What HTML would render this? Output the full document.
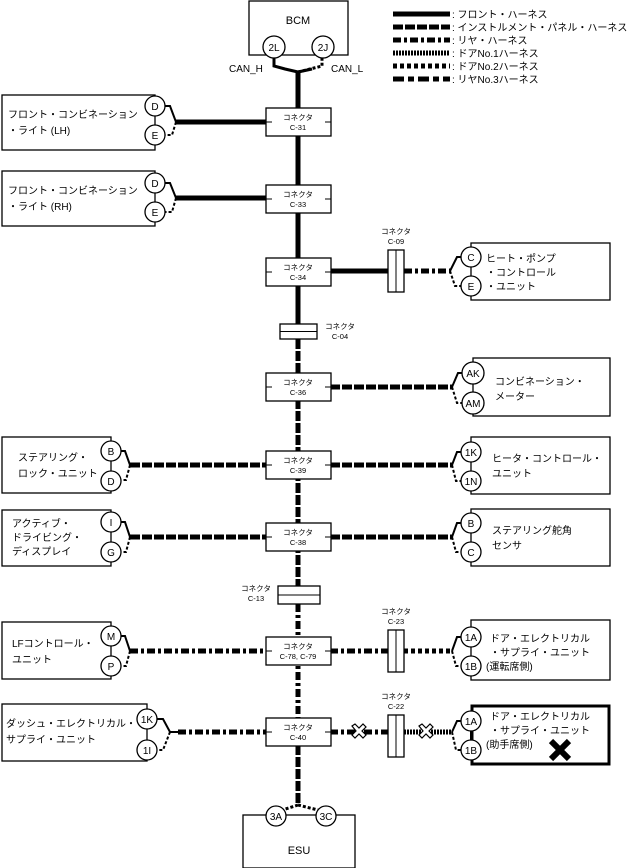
<!DOCTYPE html>
<html><head><meta charset="utf-8"><style>
body{margin:0;background:#fff}
svg{display:block}
text{font-family:"Liberation Sans","Noto Sans CJK JP",sans-serif;fill:#000}
</style></head><body>
<svg width="628" height="868" viewBox="0 0 628 868" xmlns="http://www.w3.org/2000/svg">
<defs>
<style>
.b{fill:#fff;stroke:#000;stroke-width:1.3}
.s{stroke:#000;stroke-width:5;fill:none}
.ip{stroke:#000;stroke-width:5;fill:none;stroke-dasharray:10 2}
.rr{stroke:#000;stroke-width:5;fill:none;stroke-dasharray:8 3 3 3}
.d1{stroke:#000;stroke-width:5;fill:none;stroke-dasharray:2 1}
.d2{stroke:#000;stroke-width:5;fill:none;stroke-dasharray:4 3}
.r3{stroke:#000;stroke-width:5;fill:none;stroke-dasharray:11 4 6 4}
.t{stroke:#000;stroke-width:1.5;fill:none}
.td{stroke:#000;stroke-width:1.5;fill:none;stroke-dasharray:3 2}
.c{fill:#fff;stroke:#000;stroke-width:1.3}
.k{stroke:#000;stroke-width:1}
</style>
</defs>

<!-- Legend -->
<line x1="393" y1="14" x2="450" y2="14" class="s"/>
<line x1="393" y1="27" x2="450" y2="27" class="ip"/>
<line x1="393" y1="40" x2="450" y2="40" class="rr"/>
<line x1="393" y1="53" x2="450" y2="53" class="d1"/>
<line x1="393" y1="66" x2="450" y2="66" class="d2"/>
<line x1="393" y1="79" x2="450" y2="79" class="r3"/>
<g font-size="10">
<text x="452" y="18">: フロント・ハーネス</text>
<text x="452" y="31">: インストルメント・パネル・ハーネス</text>
<text x="452" y="44">: リヤ・ハーネス</text>
<text x="452" y="57">: ドアNo.1ハーネス</text>
<text x="452" y="70">: ドアNo.2ハーネス</text>
<text x="452" y="83">: リヤNo.3ハーネス</text>
</g>

<!-- main vertical -->
<line x1="298" y1="72" x2="298" y2="330" class="s"/>
<line x1="298" y1="339" x2="298" y2="595" class="ip"/>
<line x1="298" y1="604" x2="298" y2="720" class="rr"/>
<line x1="298" y1="745" x2="298" y2="805" class="ip"/>

<!-- BCM -->
<rect x="249" y="1" width="99" height="54" class="b"/>
<text x="298" y="24" font-size="11" text-anchor="middle">BCM</text>
<path d="M274 58 V66 L285 69 L298 72 M298 72 L312 69" class="t" style="stroke-width:3"/>
<path d="M298 72 L322 66 V58" class="td" style="stroke-width:3"/>
<circle cx="274" cy="47" r="11" class="c"/><text x="274" y="51" font-size="10" text-anchor="middle">2L</text>
<circle cx="323" cy="47" r="11" class="c"/><text x="323" y="51" font-size="10" text-anchor="middle">2J</text>
<text x="229" y="72" font-size="10">CAN_H</text>
<text x="331" y="72" font-size="10">CAN_L</text>

<!-- horizontals -->
<line x1="176" y1="122" x2="268" y2="122" class="s"/>
<line x1="176" y1="198" x2="268" y2="198" class="s"/>
<line x1="330" y1="271" x2="390" y2="271" class="s"/>
<line x1="404" y1="271" x2="450" y2="271" class="rr"/>
<line x1="330" y1="387" x2="452" y2="387" class="ip"/>
<line x1="130" y1="465" x2="268" y2="465" class="ip"/>
<line x1="330" y1="465" x2="452" y2="465" class="ip"/>
<line x1="130" y1="537" x2="268" y2="537" class="ip"/>
<line x1="330" y1="537" x2="452" y2="537" class="ip"/>
<line x1="130" y1="651" x2="268" y2="651" class="rr"/>
<line x1="330" y1="651" x2="390" y2="651" class="rr"/>
<line x1="404" y1="651" x2="452" y2="651" class="d2"/>
<line x1="178" y1="732" x2="268" y2="732" class="rr"/>
<line x1="330" y1="732" x2="390" y2="732" class="rr"/>
<line x1="404" y1="732" x2="452" y2="732" class="d1"/>

<!-- connector boxes -->
<g font-size="7.5" text-anchor="middle">
<rect x="266" y="108" width="65" height="28" class="b"/><text x="298" y="120">コネクタ</text><text x="298" y="130">C-31</text>
<rect x="266" y="185" width="65" height="28" class="b"/><text x="298" y="197">コネクタ</text><text x="298" y="207">C-33</text>
<rect x="266" y="258" width="65" height="28" class="b"/><text x="298" y="270">コネクタ</text><text x="298" y="280">C-34</text>
<rect x="266" y="373" width="65" height="28" class="b"/><text x="298" y="385">コネクタ</text><text x="298" y="395">C-36</text>
<rect x="266" y="451" width="65" height="28" class="b"/><text x="298" y="463">コネクタ</text><text x="298" y="473">C-39</text>
<rect x="266" y="523" width="65" height="28" class="b"/><text x="298" y="535">コネクタ</text><text x="298" y="545">C-38</text>
<rect x="266" y="637" width="65" height="28" class="b"/><text x="298" y="649">コネクタ</text><text x="298" y="659">C-78, C-79</text>
<rect x="266" y="718" width="65" height="28" class="b"/><text x="298" y="730">コネクタ</text><text x="298" y="740">C-40</text>
<rect x="280" y="324" width="37" height="15" class="b"/><line x1="280" y1="331.5" x2="317" y2="331.5" class="k"/>
<text x="340" y="329">コネクタ</text><text x="340" y="339">C-04</text>
<rect x="278" y="586" width="42" height="18" class="b"/><line x1="278" y1="595" x2="320" y2="595" class="k"/>
<text x="256" y="591">コネクタ</text><text x="256" y="601">C-13</text>
<rect x="388" y="250" width="16" height="42" class="b"/><line x1="396" y1="250" x2="396" y2="292" class="k"/>
<text x="396" y="234">コネクタ</text><text x="396" y="244">C-09</text>
<rect x="388" y="630" width="16" height="42" class="b"/><line x1="396" y1="630" x2="396" y2="672" class="k"/>
<text x="396" y="614">コネクタ</text><text x="396" y="624">C-23</text>
<rect x="388" y="715" width="16" height="42" class="b"/><line x1="396" y1="715" x2="396" y2="757" class="k"/>
<text x="396" y="699">コネクタ</text><text x="396" y="709">C-22</text>
</g>
<!-- ticks -->
<g class="k">
<line x1="266" y1="122" x2="272" y2="122"/><line x1="325" y1="122" x2="331" y2="122"/>
<line x1="266" y1="199" x2="272" y2="199"/><line x1="325" y1="199" x2="331" y2="199"/>
<line x1="266" y1="272" x2="272" y2="272"/><line x1="325" y1="272" x2="331" y2="272"/>
<line x1="266" y1="387" x2="272" y2="387"/><line x1="325" y1="387" x2="331" y2="387"/>
<line x1="266" y1="465" x2="272" y2="465"/><line x1="325" y1="465" x2="331" y2="465"/>
<line x1="266" y1="537" x2="272" y2="537"/><line x1="325" y1="537" x2="331" y2="537"/>
<line x1="266" y1="651" x2="272" y2="651"/><line x1="325" y1="651" x2="331" y2="651"/>
<line x1="266" y1="732" x2="272" y2="732"/><line x1="325" y1="732" x2="331" y2="732"/>
</g>

<!-- X marks -->
<g stroke="#000" stroke-width="1.2" fill="#fff">
<path d="M352 726 L355 724 L359 728 L363 724 L366 727 L362 731 L366 735 L363 738 L359 734 L355 738 L352 735 L356 731 Z"/>
<path d="M419 726 L422 724 L426 728 L430 724 L433 727 L429 731 L433 735 L430 738 L426 734 L422 738 L419 735 L423 731 Z"/>
</g>

<!-- left devices -->
<g font-size="10">
<rect x="2" y="95" width="153" height="55" class="b"/>
<text x="8" y="118">フロント・コンビネーション</text><text x="8" y="134">・ライト (LH)</text>
<line x1="155" y1="106" x2="155" y2="135" class="k"/>
<path d="M165 106 H170 L176 122" class="t" style="stroke-width:2"/><path d="M176 122 L172 135 H165" class="td" style="stroke-width:2"/>
<circle cx="155" cy="106" r="10" class="c"/><text x="155" y="110" text-anchor="middle">D</text>
<circle cx="155" cy="135" r="10" class="c"/><text x="155" y="139" text-anchor="middle">E</text>

<rect x="2" y="171" width="153" height="55" class="b"/>
<text x="8" y="194">フロント・コンビネーション</text><text x="8" y="210">・ライト (RH)</text>
<line x1="155" y1="183" x2="155" y2="212" class="k"/>
<path d="M165 183 H170 L176 198" class="t" style="stroke-width:2"/><path d="M176 198 L172 212 H165" class="td" style="stroke-width:2"/>
<circle cx="155" cy="183" r="10" class="c"/><text x="155" y="187" text-anchor="middle">D</text>
<circle cx="155" cy="212" r="10" class="c"/><text x="155" y="216" text-anchor="middle">E</text>

<rect x="2" y="437" width="109" height="56" class="b"/>
<text x="18" y="461">ステアリング・</text><text x="18" y="477">ロック・ユニット</text>
<line x1="111" y1="451" x2="111" y2="481" class="k"/>
<path d="M121 451 H125 L130 465" class="t" style="stroke-width:2"/><path d="M130 465 L126 480 H121" class="td" style="stroke-width:2"/>
<circle cx="111" cy="451" r="10" class="c"/><text x="111" y="455" text-anchor="middle">B</text>
<circle cx="111" cy="481" r="10" class="c"/><text x="111" y="485" text-anchor="middle">D</text>

<rect x="2" y="510" width="109" height="56" class="b"/>
<text x="12" y="527">アクティブ・</text><text x="12" y="541">ドライビング・</text><text x="12" y="555">ディスプレイ</text>
<line x1="111" y1="522" x2="111" y2="552" class="k"/>
<path d="M121 522 H125 L130 537" class="t" style="stroke-width:2"/><path d="M130 537 L126 552 H121" class="td" style="stroke-width:2"/>
<circle cx="111" cy="522" r="10" class="c"/><text x="111" y="526" text-anchor="middle">I</text>
<circle cx="111" cy="552" r="10" class="c"/><text x="111" y="556" text-anchor="middle">G</text>

<rect x="2" y="622" width="109" height="57" class="b"/>
<text x="12" y="647">LFコントロール・</text><text x="12" y="663">ユニット</text>
<line x1="111" y1="636" x2="111" y2="666" class="k"/>
<path d="M121 636 H125 L130 651" class="t" style="stroke-width:2"/><path d="M130 651 L126 666 H121" class="td" style="stroke-width:2"/>
<circle cx="111" cy="636" r="10" class="c"/><text x="111" y="640" text-anchor="middle">M</text>
<circle cx="111" cy="666" r="10" class="c"/><text x="111" y="670" text-anchor="middle">P</text>

<rect x="2" y="704" width="145" height="57" class="b"/>
<text x="6" y="727">ダッシュ・エレクトリカル・</text><text x="6" y="743">サプライ・ユニット</text>
<line x1="147" y1="719" x2="147" y2="750" class="k"/>
<path d="M157 719 H163 L170 732 H178" class="t" style="stroke-width:2"/><path d="M170 732 L163 750 H157" class="td" style="stroke-width:2"/>
<circle cx="147" cy="719" r="10" class="c"/><text x="147" y="723" text-anchor="middle">1K</text>
<circle cx="147" cy="750" r="10" class="c"/><text x="147" y="754" text-anchor="middle">1I</text>
</g>

<!-- right devices -->
<g font-size="10">
<rect x="471" y="243" width="139" height="57" class="b"/>
<text x="486" y="262">ヒート・ポンプ</text><text x="486" y="276">・コントロール</text><text x="486" y="290">・ユニット</text>
<line x1="471" y1="257" x2="471" y2="286" class="k"/>
<path d="M461 257 H457 L450 271" class="t" style="stroke-width:2"/><path d="M450 271 L455 286 H461" class="td" style="stroke-width:2"/>
<circle cx="471" cy="257" r="10" class="c"/><text x="471" y="261" text-anchor="middle">C</text>
<circle cx="471" cy="286" r="10" class="c"/><text x="471" y="290" text-anchor="middle">E</text>

<rect x="473" y="358" width="137" height="58" class="b"/>
<text x="495" y="385">コンビネーション・</text><text x="495" y="400">メーター</text>
<line x1="473" y1="373" x2="473" y2="403" class="k"/>
<path d="M462 373 H458 L452 387" class="t" style="stroke-width:2"/><path d="M452 387 L457 403 H462" class="td" style="stroke-width:2"/>
<circle cx="473" cy="373" r="11" class="c"/><text x="473" y="377" text-anchor="middle">AK</text>
<circle cx="473" cy="403" r="11" class="c"/><text x="473" y="407" text-anchor="middle">AM</text>

<rect x="471" y="437" width="139" height="57" class="b"/>
<text x="492" y="462">ヒータ・コントロール・</text><text x="492" y="477">ユニット</text>
<line x1="471" y1="452" x2="471" y2="481" class="k"/>
<path d="M461 452 H457 L452 465" class="t" style="stroke-width:2"/><path d="M452 465 L456 481 H461" class="td" style="stroke-width:2"/>
<circle cx="471" cy="452" r="10" class="c"/><text x="471" y="456" text-anchor="middle">1K</text>
<circle cx="471" cy="481" r="10" class="c"/><text x="471" y="485" text-anchor="middle">1N</text>

<rect x="471" y="509" width="139" height="57" class="b"/>
<text x="492" y="534">ステアリング舵角</text><text x="492" y="549">センサ</text>
<line x1="471" y1="523" x2="471" y2="552" class="k"/>
<path d="M461 523 H457 L452 537" class="t" style="stroke-width:2"/><path d="M452 537 L456 552 H461" class="td" style="stroke-width:2"/>
<circle cx="471" cy="523" r="10" class="c"/><text x="471" y="527" text-anchor="middle">B</text>
<circle cx="471" cy="552" r="10" class="c"/><text x="471" y="556" text-anchor="middle">C</text>

<rect x="471" y="620" width="139" height="60" class="b"/>
<text x="490" y="642">ドア・エレクトリカル</text><text x="490" y="656">・サプライ・ユニット</text><text x="486" y="670">(運転席側)</text>
<line x1="471" y1="637" x2="471" y2="666" class="k"/>
<path d="M461 637 H457 L452 651" class="t" style="stroke-width:2"/><path d="M452 651 L456 666 H461" class="td" style="stroke-width:2"/>
<circle cx="471" cy="637" r="10" class="c"/><text x="471" y="641" text-anchor="middle">1A</text>
<circle cx="471" cy="666" r="10" class="c"/><text x="471" y="670" text-anchor="middle">1B</text>

<rect x="472" y="706" width="137" height="58" fill="#fff" stroke="#000" stroke-width="3"/>
<text x="490" y="720">ドア・エレクトリカル</text><text x="490" y="734">・サプライ・ユニット</text><text x="486" y="748">(助手席側)</text>
<line x1="471" y1="721" x2="471" y2="750" class="t" style="stroke-width:2"/>
<path d="M461 721 H457 L452 732" class="t" style="stroke-width:2"/><path d="M452 732 L456 750 H461" class="td" style="stroke-width:2"/>
<circle cx="471" cy="721" r="10" class="c"/><text x="471" y="725" text-anchor="middle">1A</text>
<circle cx="471" cy="750" r="10" class="c"/><text x="471" y="754" text-anchor="middle">1B</text>
<path d="M551 741 L569 759 M569 741 L551 759" stroke="#000" stroke-width="6"/>
</g>

<!-- ESU -->
<rect x="243" y="815" width="112" height="53" class="b"/>
<text x="299" y="854" font-size="11" text-anchor="middle">ESU</text>
<path d="M298 805 L276 812 V816" class="td" style="stroke-width:3"/>
<path d="M298 805 L326 812 V816" class="td" style="stroke-width:3"/>
<circle cx="276" cy="816" r="10" class="c"/><text x="276" y="820" font-size="10" text-anchor="middle">3A</text>
<circle cx="326" cy="816" r="10" class="c"/><text x="326" y="820" font-size="10" text-anchor="middle">3C</text>
</svg>
</body></html>
